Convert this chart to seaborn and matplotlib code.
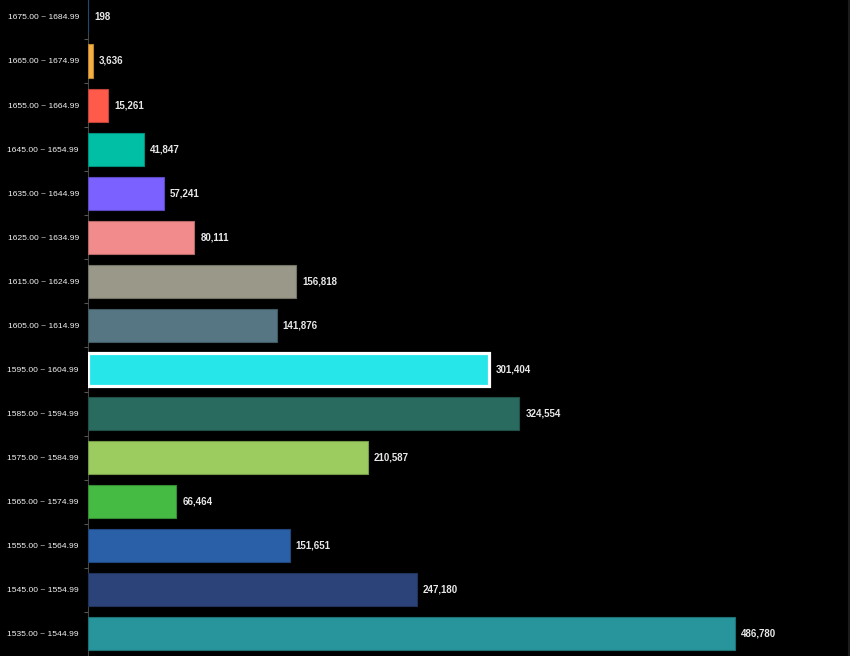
import matplotlib
matplotlib.use("Agg")
import matplotlib.pyplot as plt
import seaborn as sns
import pandas as pd
import numpy as np
from matplotlib.colors import to_rgb

categories = [
    "1675.00 ~ 1684.99", "1665.00 ~ 1674.99", "1655.00 ~ 1664.99",
    "1645.00 ~ 1654.99", "1635.00 ~ 1644.99", "1625.00 ~ 1634.99",
    "1615.00 ~ 1624.99", "1605.00 ~ 1614.99", "1595.00 ~ 1604.99",
    "1585.00 ~ 1594.99", "1575.00 ~ 1584.99", "1565.00 ~ 1574.99",
    "1555.00 ~ 1564.99", "1545.00 ~ 1554.99", "1535.00 ~ 1544.99",
]
values = [198, 3636, 15261, 41847, 57241, 80111, 156818, 141876,
          301404, 324554, 210587, 66464, 151651, 247180, 486780]
colors = ["#2a5fa0", "#f5b041", "#ff5a4a", "#00bfa5", "#7b61ff", "#f28b8b",
          "#9a9888", "#557682", "#27e6ea", "#2a6b5f", "#9ccc60", "#46bb44",
          "#2a60a8", "#2c4379", "#27959b"]
highlight = "1595.00 ~ 1604.99"

df = pd.DataFrame({"range": categories, "count": values})

plt.rcParams['font.family'] = ['Liberation Sans', 'DejaVu Sans']
fig = plt.figure(figsize=(8.5, 6.56), dpi=100, facecolor="black")
ax = fig.add_axes([88 / 850, 0, 760 / 850, 1])
ax.set_facecolor("black")

sns.barplot(data=df, y="range", x="count", hue="range", palette=colors,
            order=categories, hue_order=categories, legend=False,
            width=0.75, orient="h", ax=ax, saturation=1)

for patch, cat, col in zip(ax.patches, categories, colors):
    patch.set_zorder(3)
    if cat == highlight:
        patch.set_edgecolor("white")
        patch.set_linewidth(2.3)
    else:
        r, g, b = to_rgb(col)
        patch.set_edgecolor((r * 0.75, g * 0.75, b * 0.75))
        patch.set_linewidth(0.8)

ax.set_xlim(0, 571800)
ax.set_ylim(14.43, -0.384)

for i, v in enumerate(values):
    ax.annotate(f"{v:,}", xy=(v, i), xytext=(4.3 if categories[i] != highlight else 5.2, 0),
                textcoords="offset points", va="center", ha="left",
                color="#e8e8e8", fontsize=7.0, fontweight="bold")

ax.set_xlabel("")
ax.set_ylabel("")
ax.set_xticks([])
ax.tick_params(axis="y", which="major", length=0, pad=6.5, labelcolor="#f4f4f4",
               labelsize=6.1)
ax.set_yticks(np.arange(len(categories)) + 0.5, minor=True)
ax.tick_params(axis="y", which="minor", length=3, color="#555555", width=0.8)

for s in ["top", "right", "bottom"]:
    ax.spines[s].set_visible(False)
ax.spines["left"].set_color("#444444")
ax.spines["left"].set_linewidth(0.8)
ax.spines["left"].set_zorder(1)

fig.add_artist(plt.Line2D([848.5 / 850, 848.5 / 850], [0, 1], color="#1c1c1c",
                          linewidth=1.5, transform=fig.transFigure))

fig.savefig("out.png", dpi=100, facecolor="black")
